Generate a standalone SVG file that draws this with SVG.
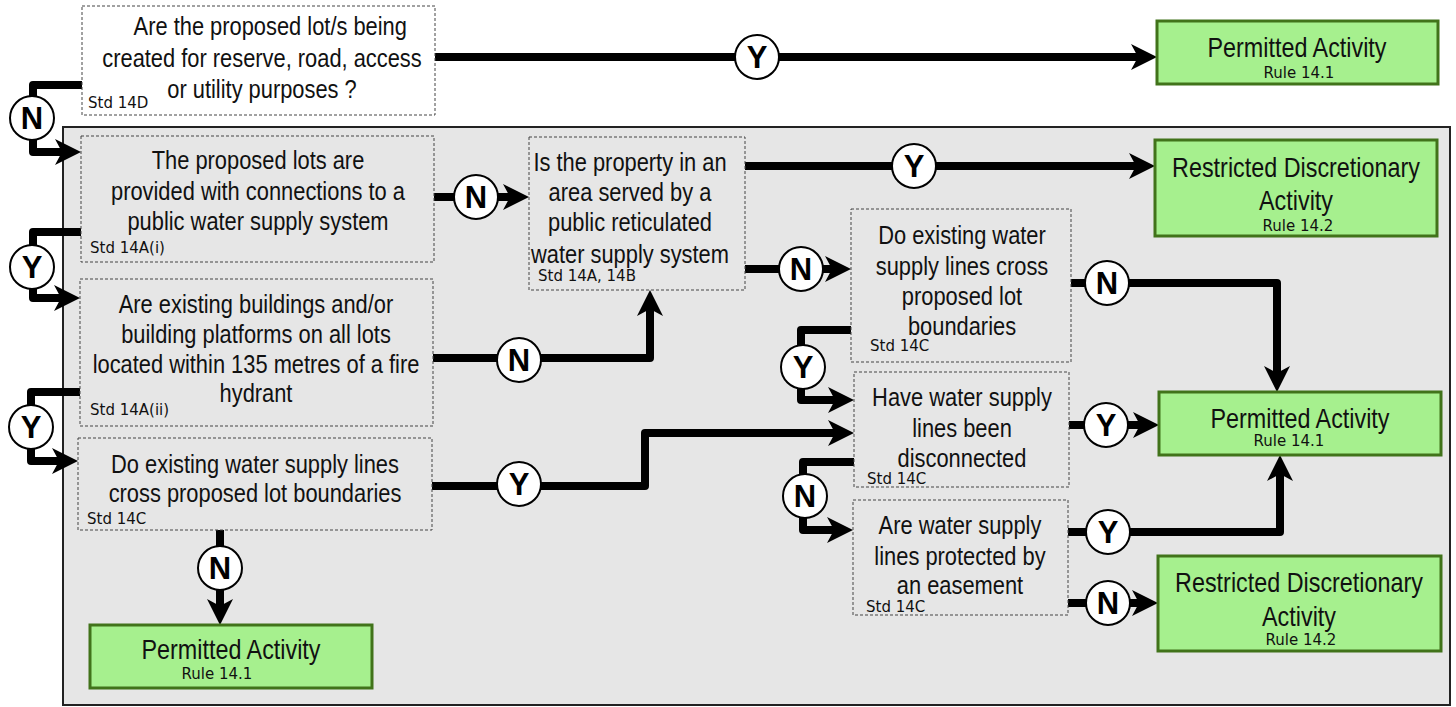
<svg xmlns="http://www.w3.org/2000/svg" width="1456" height="707" viewBox="0 0 1456 707">
<style>
.q{fill:#e6e6e6;stroke:#444;stroke-width:1;stroke-dasharray:3 2}
.qw{fill:#fff;stroke:#444;stroke-width:1;stroke-dasharray:3 2}
.g{fill:#a6f08e;stroke:#41731a;stroke-width:3}
.t{font-family:"Liberation Sans",Arial,sans-serif;font-size:26.5px;fill:#111;text-anchor:middle}
.gt{font-family:"Liberation Sans",Arial,sans-serif;font-size:27px;fill:#111;text-anchor:middle}
.s{font-family:"DejaVu Sans",Verdana,sans-serif;font-size:15px;fill:#111}
.r{font-family:"DejaVu Sans",Verdana,sans-serif;font-size:15px;fill:#111;text-anchor:middle}
.c{fill:none;stroke:#000;stroke-width:8;stroke-linejoin:round}
.a{marker-end:url(#ah)}
.b circle{fill:#fff;stroke:#000;stroke-width:2}
.b text{font-family:"Liberation Sans",Arial,sans-serif;font-weight:bold;font-size:31px;fill:#000;text-anchor:middle}
</style>
<defs>
<marker id="ah" markerUnits="userSpaceOnUse" viewBox="0 0 26 26" markerWidth="26" markerHeight="26" refX="12" refY="13" orient="auto">
<path d="M0,0 L26,13 L0,26 L7,13 Z" fill="#000"/>
</marker>
</defs>
<rect width="1456" height="707" fill="#fff"/>
<rect x="63" y="127" width="1387" height="578" fill="#e6e6e6" stroke="#222" stroke-width="2"/>

<g id="connectors">
<path class="c a" d="M435,57 H1143"/>
<path class="c a" d="M82,85 H33 V152 H67"/>
<path class="c a" d="M81,232 H33 V298 H66"/>
<path class="c a" d="M80,392 H31 V461 H64"/>
<path class="c a" d="M434,197 H515"/>
<path class="c a" d="M433,358 H650 V304"/>
<path class="c a" d="M745,166 H1141"/>
<path class="c a" d="M745,269 H837"/>
<path class="c a" d="M1071,283 H1277 V378"/>
<path class="c a" d="M851,330 H801 V400 H840"/>
<path class="c a" d="M432,486 H645 V433 H840"/>
<path class="c a" d="M854,462 H803 V530 H839"/>
<path class="c a" d="M1069,425 H1145"/>
<path class="c a" d="M1068,532 H1280 V469"/>
<path class="c a" d="M1068,603 H1144"/>
<path class="c a" d="M220,530 V611"/>
</g>

<g id="top-question">
<rect class="qw" x="82" y="6" width="353" height="109"/>
<g transform="translate(262 0) scale(0.825 1)">
<text class="t" x="10" y="35">Are the proposed lot/s being</text>
<text class="t" x="0" y="67">created for reserve, road, access</text>
<text class="t" x="0" y="98">or utility purposes ?</text>
</g>
<text class="s" x="88" y="108">Std 14D</text>
</g>
<g id="q-connections">
<rect class="q" x="81" y="136" width="353" height="126"/>
<g transform="translate(258 0) scale(0.825 1)">
<text class="t" x="0" y="169">The proposed lots are</text>
<text class="t" x="0" y="200">provided with connections to a</text>
<text class="t" x="0" y="230">public water supply system</text>
</g>
<text class="s" x="90" y="253">Std 14A(i)</text>
</g>
<g id="q-hydrant">
<rect class="q" x="80" y="279" width="353" height="147"/>
<g transform="translate(256 0) scale(0.825 1)">
<text class="t" x="0" y="313">Are existing buildings and/or</text>
<text class="t" x="0" y="343">building platforms on all lots</text>
<text class="t" x="0" y="373">located within 135 metres of a fire</text>
<text class="t" x="0" y="402">hydrant</text>
</g>
<text class="s" x="90" y="415">Std 14A(ii)</text>
</g>
<g id="q-cross1">
<rect class="q" x="78" y="438" width="354" height="92"/>
<g transform="translate(255 0) scale(0.825 1)">
<text class="t" x="0" y="473">Do existing water supply lines</text>
<text class="t" x="0" y="502">cross proposed lot boundaries</text>
</g>
<text class="s" x="87" y="524">Std 14C</text>
</g>
<g id="q-area">
<rect class="q" x="529" y="137" width="216" height="153"/>
<g transform="translate(630 0) scale(0.825 1)">
<text class="t" x="0" y="171">Is the property in an</text>
<text class="t" x="0" y="201">area served by a</text>
<text class="t" x="0" y="231">public reticulated</text>
<text class="t" x="0" y="263">water supply system</text>
</g>
<text class="s" x="538" y="281">Std 14A, 14B</text>
</g>
<g id="q-cross2">
<rect class="q" x="851" y="209" width="220" height="153"/>
<g transform="translate(962 0) scale(0.825 1)">
<text class="t" x="0" y="244">Do existing water</text>
<text class="t" x="0" y="275">supply lines cross</text>
<text class="t" x="0" y="305">proposed lot</text>
<text class="t" x="0" y="335">boundaries</text>
</g>
<text class="s" x="870" y="351">Std 14C</text>
</g>
<g id="q-disconnected">
<rect class="q" x="854" y="372" width="215" height="115"/>
<g transform="translate(962 0) scale(0.825 1)">
<text class="t" x="0" y="406">Have water supply</text>
<text class="t" x="0" y="437">lines been</text>
<text class="t" x="0" y="467">disconnected</text>
</g>
<text class="s" x="867" y="484">Std 14C</text>
</g>
<g id="q-easement">
<rect class="q" x="853" y="500" width="215" height="115"/>
<g transform="translate(960 0) scale(0.825 1)">
<text class="t" x="0" y="534">Are water supply</text>
<text class="t" x="0" y="565">lines protected by</text>
<text class="t" x="0" y="594">an easement</text>
</g>
<text class="s" x="866" y="612">Std 14C</text>
</g>

<g id="permitted-1">
<rect class="g" x="1157" y="21" width="281" height="63"/>
<g transform="translate(1297 0) scale(0.865 1)">
<text class="gt" x="0" y="57">Permitted Activity</text>
</g>
<text class="r" x="1299" y="78">Rule 14.1</text>
</g>
<g id="restricted-1">
<rect class="g" x="1155" y="140" width="282" height="96"/>
<g transform="translate(1296 0) scale(0.865 1)">
<text class="gt" x="0" y="177">Restricted Discretionary</text>
<text class="gt" x="0" y="210">Activity</text>
</g>
<text class="r" x="1298" y="231">Rule 14.2</text>
</g>
<g id="permitted-2">
<rect class="g" x="1159" y="392" width="282" height="63"/>
<g transform="translate(1300 0) scale(0.865 1)">
<text class="gt" x="0" y="428">Permitted Activity</text>
</g>
<text class="r" x="1289" y="446">Rule 14.1</text>
</g>
<g id="restricted-2">
<rect class="g" x="1158" y="556" width="283" height="95"/>
<g transform="translate(1299 0) scale(0.865 1)">
<text class="gt" x="0" y="592">Restricted Discretionary</text>
<text class="gt" x="0" y="626">Activity</text>
</g>
<text class="r" x="1301" y="645">Rule 14.2</text>
</g>
<g id="permitted-3">
<rect class="g" x="90" y="625" width="282" height="63"/>
<g transform="translate(231 0) scale(0.865 1)">
<text class="gt" x="0" y="659">Permitted Activity</text>
</g>
<text class="r" x="217" y="679">Rule 14.1</text>
</g>

<g id="labels" class="b">
<circle cx="757" cy="57" r="22"/><text x="757" y="68">Y</text>
<circle cx="32" cy="118" r="22"/><text x="32" y="129">N</text>
<circle cx="476" cy="197" r="22"/><text x="476" y="208">N</text>
<circle cx="914" cy="166" r="22"/><text x="914" y="177">Y</text>
<circle cx="32" cy="267" r="22"/><text x="32" y="278">Y</text>
<circle cx="519" cy="360" r="22"/><text x="519" y="371">N</text>
<circle cx="801" cy="269" r="22"/><text x="801" y="280">N</text>
<circle cx="1107" cy="283" r="22"/><text x="1107" y="294">N</text>
<circle cx="31" cy="427" r="22"/><text x="31" y="438">Y</text>
<circle cx="519" cy="484" r="22"/><text x="519" y="495">Y</text>
<circle cx="803" cy="367" r="22"/><text x="803" y="378">Y</text>
<circle cx="1106" cy="425" r="22"/><text x="1106" y="436">Y</text>
<circle cx="805" cy="496" r="22"/><text x="805" y="507">N</text>
<circle cx="1108" cy="532" r="22"/><text x="1108" y="543">Y</text>
<circle cx="1108" cy="603" r="22"/><text x="1108" y="614">N</text>
<circle cx="220" cy="568" r="22"/><text x="220" y="579">N</text>
</g>
</svg>
